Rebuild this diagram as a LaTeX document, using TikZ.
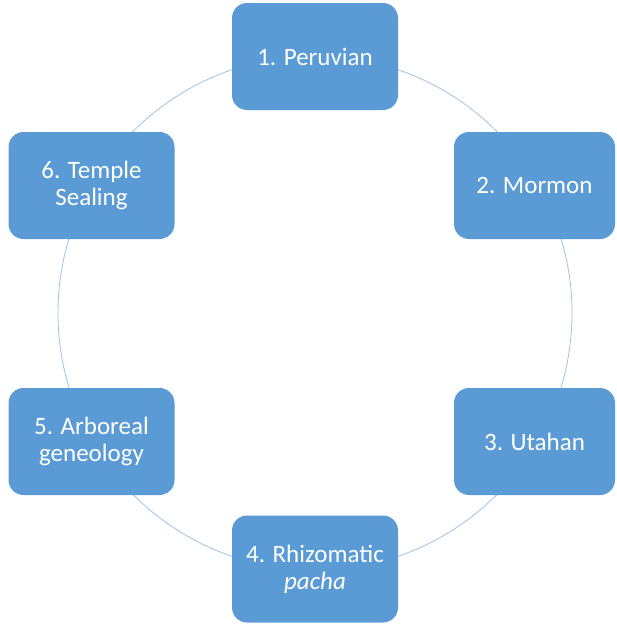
\documentclass[tikz,border=0pt]{standalone}
\usepackage{fontspec}
\setmainfont{Carlito}
\definecolor{boxblue}{HTML}{5B9BD5}
\definecolor{ringblue}{HTML}{9DC3E6}
\begin{document}
\begin{tikzpicture}[x=1pt,y=-1pt,
  cyclebox/.style={draw=none, fill=boxblue, rounded corners=15pt, minimum height=107pt,
    inner sep=0pt, align=center, text=white, font=\fontsize{25}{27}\selectfont},
  widebox/.style={cyclebox, minimum width=166pt},
  narrowbox/.style={cyclebox, minimum width=161pt},
  ring/.style={draw=ringblue, line width=0.8pt}]
\useasboundingbox (0,0) rectangle (616,624);
\coordinate (ctr) at (315,313);
\draw[ring] (ctr) circle[radius=257pt];
\node[widebox] (n1) at (315,56.5) {1. Peruvian};
\node[narrowbox] (n2) at (534.5,185.5) {2. Mormon};
\node[narrowbox] (n3) at (534.5,441.5) {3. Utahan};
\node[widebox] (n4) at (315,569) {4. Rhizomatic\\\textit{pacha}};
\node[widebox] (n5) at (91.5,441.5) {5. Arboreal\\geneology};
\node[widebox] (n6) at (91.5,185.5) {6. Temple\\Sealing};
\end{tikzpicture}
\end{document}
